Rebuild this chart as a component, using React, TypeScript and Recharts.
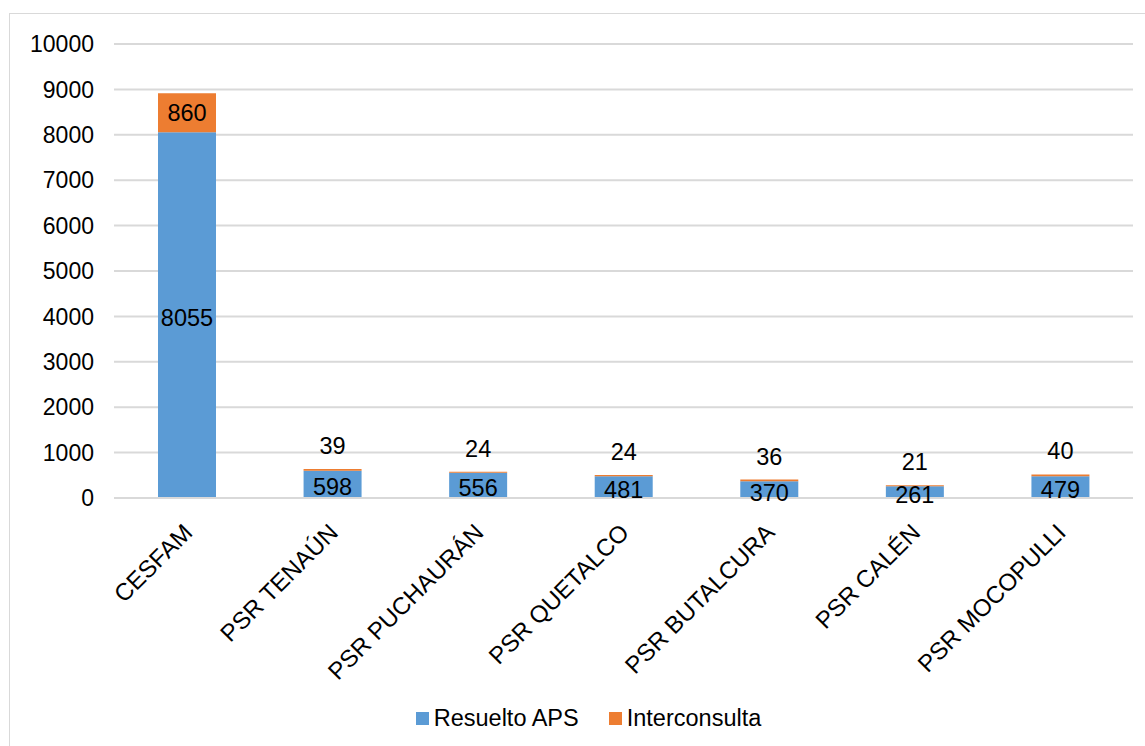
import { BarChart, Bar, XAxis, YAxis, CartesianGrid, Legend, LabelList } from 'recharts';

const categories = ['CESFAM', 'PSR TENAÚN', 'PSR PUCHAURÁN', 'PSR QUETALCO', 'PSR BUTALCURA', 'PSR CALÉN', 'PSR MOCOPULLI'];
const resueltoAps = [8055, 598, 556, 481, 370, 261, 479];
const interconsulta = [860, 39, 24, 24, 36, 21, 40];
const yTicks = [0, 1000, 2000, 3000, 4000, 5000, 6000, 7000, 8000, 9000, 10000];

const BLUE = '#5B9BD5';
const ORANGE = '#ED7D31';
const FONT = '"Liberation Sans", Arial, sans-serif';

const data = categories.map((name, i) => ({
  name,
  resuelto: resueltoAps[i],
  inter: interconsulta[i],
}));

const AngledTick = ({ x, y, payload }: any) => (
  <g transform={`translate(${x - 5},${y + 16})`}>
    <text
      transform="rotate(-45)"
      textAnchor="end"
      dy="0.71em"
      fontSize={24}
      fontFamily={FONT}
      fill="#000"
    >
      {payload.value}
    </text>
  </g>
);

// thin segments get their value above the bar instead of inside it
const InterLabel = ({ x, y, width, height, value }: any) => {
  const cx = x + width / 2;
  const cy = height > 26 ? y + height / 2 : y - 23;
  return (
    <text x={cx} y={cy} textAnchor="middle" dominantBaseline="central" fontSize={23.5} fontFamily={FONT} fill="#000">
      {value}
    </text>
  );
};

const ResueltoLabel = ({ x, y, width, height, value }: any) => (
  <text x={x + width / 2} y={y + height / 2 + 3} textAnchor="middle" dominantBaseline="central" fontSize={23.5} fontFamily={FONT} fill="#000">
    {value}
  </text>
);

const LegendBox = () => (
  <div style={{ display: 'flex', justifyContent: 'center', alignItems: 'center', paddingLeft: 34, fontFamily: FONT, fontSize: 23.5, color: '#000' }}>
    <span style={{ display: 'inline-block', width: 13, height: 13, background: BLUE, marginRight: 5 }} />
    <span style={{ marginRight: 30 }}>Resuelto APS</span>
    <span style={{ display: 'inline-block', width: 13, height: 13, background: ORANGE, marginRight: 5 }} />
    <span>Interconsulta</span>
  </div>
);

export default function App() {
  return (
    <div
      style={{
        position: 'absolute',
        left: 9,
        top: 13,
        width: 1140,
        height: 740,
        border: '1px solid #d9d9d9',
        background: '#fff',
      }}
    >
      <BarChart
        width={1136}
        height={733}
        data={data}
        margin={{ top: 30, right: 13, left: 0, bottom: 6 }}
        barSize={58}
      >
        <CartesianGrid vertical={false} stroke="#d9d9d9" strokeWidth={2} />
        <XAxis
          dataKey="name"
          interval={0}
          tick={<AngledTick />}
          tickLine={false}
          axisLine={{ stroke: '#d9d9d9', strokeWidth: 2 }}
          height={207}
        />
        <YAxis
          domain={[0, 10000]}
          ticks={yTicks}
          width={104}
          tickSize={0}
          tickMargin={20}
          tickLine={false}
          axisLine={false}
          tick={{ fontSize: 23, fontFamily: FONT, fill: '#000' }}
        />
        <Legend verticalAlign="bottom" height={36} content={<LegendBox />} />
        <Bar dataKey="resuelto" name="Resuelto APS" stackId="a" fill={BLUE} isAnimationActive={false}>
          <LabelList dataKey="resuelto" content={<ResueltoLabel />} />
        </Bar>
        <Bar dataKey="inter" name="Interconsulta" stackId="a" fill={ORANGE} isAnimationActive={false}>
          <LabelList dataKey="inter" content={<InterLabel />} />
        </Bar>
      </BarChart>
    </div>
  );
}
